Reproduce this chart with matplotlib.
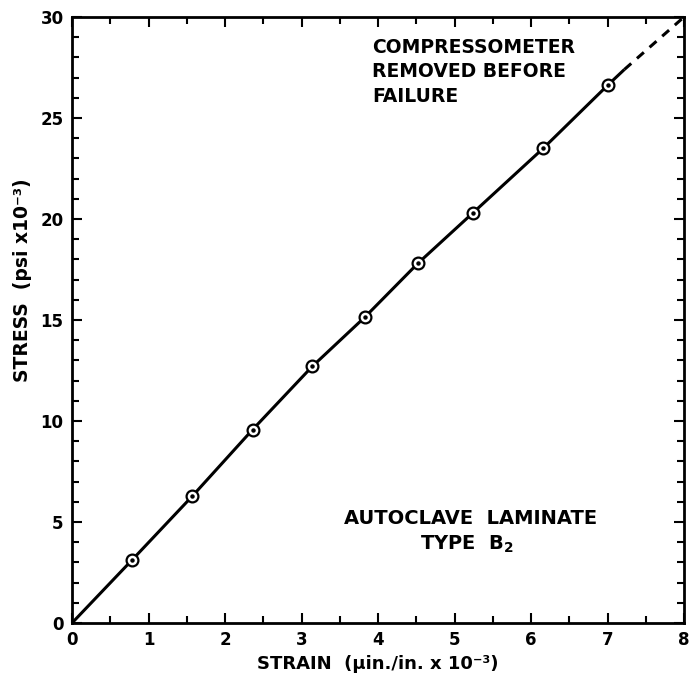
import matplotlib
matplotlib.use("Agg")
import matplotlib.pyplot as plt
from matplotlib.ticker import MultipleLocator

# measured points (strain x1e-3, stress psi x1e-3)
strain = [0.78, 1.57, 2.36, 3.14, 3.83, 4.52, 5.24, 6.16, 7.01]
stress = [3.1, 6.27, 9.57, 12.7, 15.15, 17.8, 20.3, 23.5, 26.65]

# curve drawn through the points, then extrapolated (dashed) to failure
curve_x = [0.0] + strain + [7.22]
curve_y = [0.0] + stress + [27.4]
ext_x = [7.22, 8.0]
ext_y = [27.4, 30.0]

plt.rcParams['font.family'] = ['DejaVu Sans']
plt.rcParams['font.weight'] = 'bold'

fig = plt.figure(figsize=(6.95, 6.85), dpi=100)
ax = fig.add_axes([0.1036, 0.0905, 0.8806, 0.8847])

ax.plot(curve_x, curve_y, color='black', linewidth=2.2, solid_capstyle='butt', zorder=2)
ax.plot(ext_x, ext_y, color='black', linewidth=2.2, linestyle=(0, (3, 2.5)), zorder=2)
ax.plot(strain, stress, linestyle='none', marker='o', markersize=8.5,
        markerfacecolor='white', markeredgecolor='black', markeredgewidth=1.6, zorder=3)
ax.plot(strain, stress, linestyle='none', marker='o', markersize=2.2,
        color='black', zorder=4)

ax.set_xlim(0, 8)
ax.set_ylim(0, 30)
ax.xaxis.set_major_locator(MultipleLocator(1))
ax.xaxis.set_minor_locator(MultipleLocator(0.5))
ax.yaxis.set_major_locator(MultipleLocator(5))
ax.yaxis.set_minor_locator(MultipleLocator(1))
ax.tick_params(which='both', direction='in', top=True, right=True, width=1.5)
ax.tick_params(which='major', length=7, labelsize=12, pad=6)
ax.tick_params(which='minor', length=5)
for lab in ax.get_xticklabels() + ax.get_yticklabels():
    lab.set_fontweight('bold')
for s in ax.spines.values():
    s.set_linewidth(2)

ax.set_xlabel('STRAIN  (μin./in. x 10⁻³)', fontsize=13, fontweight='bold', labelpad=4)
ax.set_ylabel('STRESS  (psi x10⁻³)', fontsize=13.5, fontweight='bold')
ax.yaxis.set_label_coords(-0.066, 0.565)

ax.text(0.49, 0.965, 'COMPRESSOMETER\nREMOVED BEFORE\nFAILURE', transform=ax.transAxes,
        ha='left', va='top', fontsize=13.5, fontweight='bold', linespacing=1.35)
ax.text(0.652, 0.173, 'AUTOCLAVE  LAMINATE', transform=ax.transAxes,
        ha='center', va='center', fontsize=14, fontweight='bold')
ax.text(0.646, 0.13, r'TYPE  B$_\mathbf{2}$', transform=ax.transAxes,
        ha='center', va='center', fontsize=14, fontweight='bold')

fig.savefig('out.png', dpi=100)
